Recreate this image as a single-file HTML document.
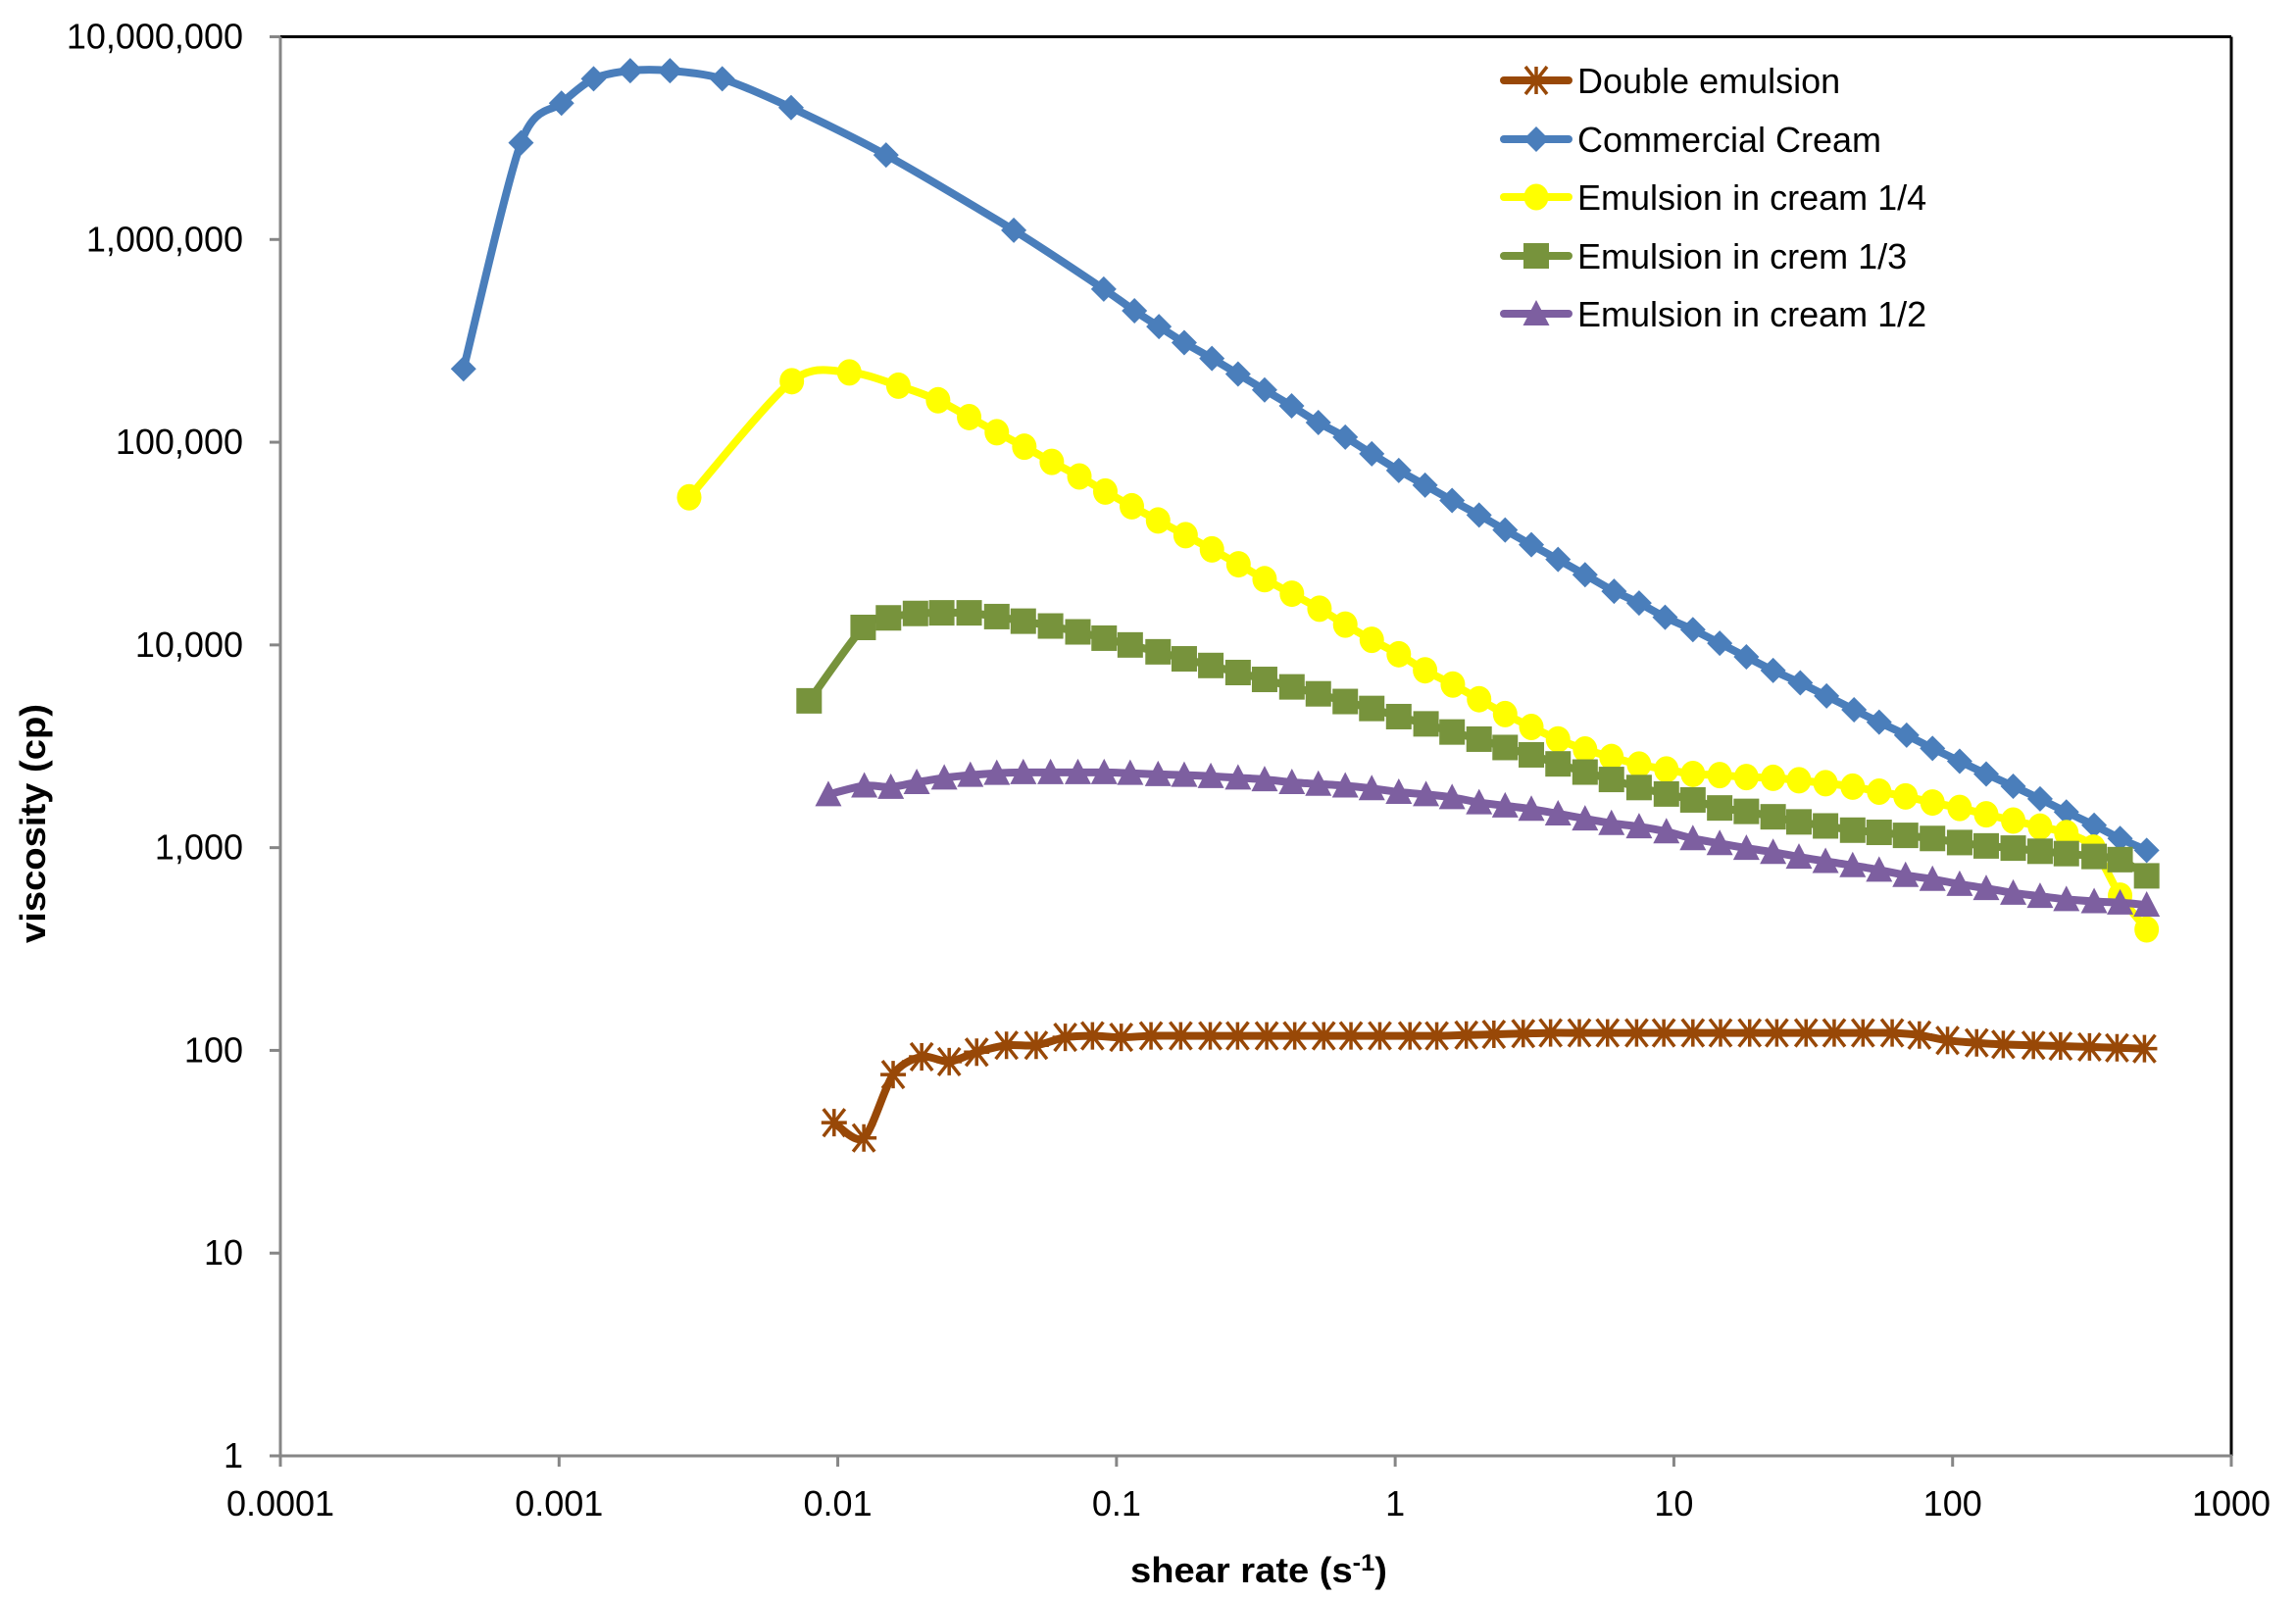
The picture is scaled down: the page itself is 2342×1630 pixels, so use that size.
<!DOCTYPE html>
<html><head><meta charset="utf-8"><title>Viscosity vs shear rate</title>
<style>
html,body{margin:0;padding:0;background:#fff;}
svg{display:block;font-family:"Liberation Sans",Arial,sans-serif;}
</style></head>
<body>
<svg id="chart" width="2342" height="1630" viewBox="0 0 2342 1630" xmlns="http://www.w3.org/2000/svg">
<rect x="0" y="0" width="2342" height="1630" fill="#fff"/>
<g id="axes"></g>
<g id="series"></g>
<g id="legend"></g>
<text x="1284" y="1614" text-anchor="middle" font-size="36" font-weight="bold" textLength="262" lengthAdjust="spacingAndGlyphs">shear rate (s<tspan dy="-12" font-size="24">-1</tspan><tspan dy="12">)</tspan></text>
<text x="0" y="0" transform="translate(46,840) rotate(-90)" text-anchor="middle" font-size="36" font-weight="bold" textLength="244" lengthAdjust="spacingAndGlyphs">viscosity (cp)</text>
</svg>
<script>
// ---- data ----
const xTickLabels = ["0.0001","0.001","0.01","0.1","1","10","100","1000"];
const yTickLabels = ["1","10","100","1,000","10,000","100,000","1,000,000","10,000,000"];
const seriesNames = ["Double emulsion","Commercial Cream","Emulsion in cream 1/4","Emulsion in crem 1/3","Emulsion in cream 1/2"];

const doubleX = [0.0097,0.0124,0.0158,0.020,0.0251,0.0315,0.0403,0.0515,0.0655,0.082,0.104,0.133,0.170,0.217,0.272,0.346,0.436,0.554,0.694,0.881,1.13,1.41,1.80,2.26,2.88,3.61,4.58,5.78,7.35,9.2,11.7,14.7,18.7,23.4,29.8,37.6,47.7,60.7,76,95.9,122,152,195,244,310,389,488];
const doubleY = [44,37,76,93,88,98,106,106,116,118,116,118,118,118,118,118,118,118,118,118,118,118,119,120,121,122,122,122,122,122,122,122,122,122,122,122,122,122,119,112,109,107,106,105,104,103,102];

const creamX = [0.000454,0.00073,0.00102,0.00133,0.0018,0.0025,0.00385,0.0068,0.0149,0.0428,0.090,0.116,0.142,0.175,0.22,0.273,0.34,0.425,0.53,0.662,0.824,1.03,1.28,1.6,2.0,2.48,3.08,3.84,4.8,6.1,7.5,9.3,11.7,14.6,18.2,22.7,28.4,35.3,44.3,54.5,68.4,84.7,106,132,165,206,256,322,399,497];
const creamY = [230000,3000000,4700000,6200000,6800000,6800000,6200000,4470000,2610000,1110000,569000,445000,372000,310000,259000,217000,181000,151000,125000,106000,87700,72600,61400,51600,43700,36900,31200,26400,22200,18400,16100,13700,11900,10200,8730,7480,6500,5600,4790,4160,3590,3090,2670,2310,2010,1740,1500,1290,1110,970];

const quarterX = [0.00293,0.00684,0.011,0.0165,0.0229,0.0296,0.0372,0.0467,0.0586,0.0736,0.0912,0.1135,0.141,0.177,0.22,0.274,0.34,0.426,0.535,0.662,0.824,1.03,1.28,1.61,2.0,2.48,3.08,3.84,4.8,5.97,7.5,9.4,11.7,14.6,18.2,22.7,28.1,35,43.8,54.5,67.8,84.7,106,132,165,206,256,320,399,497];
const quarterY = [53500,200000,221000,190000,161000,133000,112000,95000,80000,67800,57100,48300,41100,34800,29600,25000,21100,17900,15100,12600,10600,9000,7500,6380,5400,4560,3940,3420,3050,2800,2570,2430,2310,2280,2230,2210,2150,2080,2000,1890,1790,1670,1570,1460,1360,1270,1180,1000,580,395];

const thirdX = [0.00789,0.01233,0.0152,0.019,0.0236,0.0296,0.0372,0.0463,0.058,0.0727,0.0903,0.112,0.141,0.175,0.218,0.273,0.34,0.426,0.53,0.662,0.824,1.03,1.29,1.6,2.0,2.48,3.08,3.84,4.8,5.97,7.5,9.4,11.7,14.6,18.2,22.7,28.1,35,43.8,54.5,67.8,84.7,106,132,165,206,256,322,399,497];
const thirdY = [5300,12200,13600,14300,14400,14400,13800,13100,12400,11600,10800,10000,9250,8540,7920,7310,6760,6210,5740,5260,4860,4430,4080,3720,3430,3120,2870,2590,2360,2170,1980,1840,1720,1570,1510,1420,1340,1280,1220,1190,1150,1110,1060,1020,995,960,935,905,873,726];

const halfX = [0.00925,0.01245,0.0155,0.0192,0.0241,0.0299,0.0372,0.0463,0.058,0.0727,0.0903,0.112,0.141,0.175,0.218,0.273,0.34,0.426,0.53,0.662,0.824,1.03,1.29,1.6,2.0,2.48,3.08,3.84,4.8,5.97,7.5,9.4,11.7,14.6,18.2,22.7,28.1,35,43.8,54.5,67.8,84.7,106,132,165,206,256,322,399,497];
const halfY = [1830,2020,1990,2100,2210,2280,2330,2350,2350,2350,2350,2330,2300,2280,2250,2210,2170,2100,2060,2020,1960,1880,1830,1770,1670,1610,1550,1470,1390,1320,1270,1200,1110,1050,995,950,900,857,817,776,731,699,661,630,598,576,556,543,535,522];

// ---- layout ----
const PL=286, PR=2276, PT=37.5, PB=1485;
const XMIN=-4, XMAX=3, YMIN=0, YMAX=7;
function sx(v){return PL+(Math.log10(v)-XMIN)/(XMAX-XMIN)*(PR-PL);}
function sy(v){return PB-(Math.log10(v)-YMIN)/(YMAX-YMIN)*(PB-PT);}
const NS="http://www.w3.org/2000/svg";
function mk(tag,parent,attrs){const e=document.createElementNS(NS,tag);for(const k in attrs)e.setAttribute(k,attrs[k]);parent.appendChild(e);return e;}

const axes=document.getElementById('axes');
let b1=mk('line',axes,{x1:PL,y1:PT,x2:PR,y2:PT,stroke:'#000','stroke-width':3});


let b2=mk('line',axes,{x1:PR,y1:PT,x2:PR,y2:PB,stroke:'#000','stroke-width':3});


let ya=mk('line',axes,{x1:PL,y1:PT,x2:PL,y2:PB+1,stroke:'#868686','stroke-width':3});


let xa=mk('line',axes,{x1:PL-1,y1:PB,x2:PR+1,y2:PB,stroke:'#868686','stroke-width':3});



xTickLabels.forEach((lab,i)=>{
  const x=sx(Math.pow(10,XMIN+i));
  const t=mk('line',axes,{x1:x,y1:PB,x2:x,y2:PB+11,stroke:'#868686','stroke-width':3});
  
  
  const tx=mk('text',axes,{x:x,y:PB+61,'text-anchor':'middle','font-size':36,fill:'#000'});
  tx.textContent=lab;
  
  
});
yTickLabels.forEach((lab,i)=>{
  const y=sy(Math.pow(10,YMIN+i));
  const t=mk('line',axes,{x1:PL-11,y1:y,x2:PL,y2:y,stroke:'#868686','stroke-width':3});
  
  
  const tx=mk('text',axes,{x:248,y:y+12,'text-anchor':'end','font-size':36,fill:'#000'});
  tx.textContent=lab;
  
  
});

function smoothPath(pts){
  if(pts.length<2)return '';
  let d='M'+pts[0][0].toFixed(1)+','+pts[0][1].toFixed(1);
  const t=1/7;
  for(let i=0;i<pts.length-1;i++){
    const p0=pts[Math.max(0,i-1)],p1=pts[i],p2=pts[i+1],p3=pts[Math.min(pts.length-1,i+2)];
    const c1x=p1[0]+(p2[0]-p0[0])*t, c1y=p1[1]+(p2[1]-p0[1])*t;
    const c2x=p2[0]-(p3[0]-p1[0])*t, c2y=p2[1]-(p3[1]-p1[1])*t;
    d+=' C'+c1x.toFixed(1)+','+c1y.toFixed(1)+' '+c2x.toFixed(1)+','+c2y.toFixed(1)+' '+p2[0].toFixed(1)+','+p2[1].toFixed(1);
  }
  return d;
}
function marker(g,type,x,y,color){
  let e;
  if(type==='diamond'){
    e=mk('polygon',g,{points:`${x},${y-13} ${x+13},${y} ${x},${y+13} ${x-13},${y}`,fill:color});
  }else if(type==='circle'){
    e=mk('ellipse',g,{cx:x,cy:y,rx:12.5,ry:13.5,fill:color});
  }else if(type==='square'){
    e=mk('rect',g,{x:x-13,y:y-13,width:26,height:26,fill:color});
  }else if(type==='triangle'){
    e=mk('polygon',g,{points:`${x},${y-14} ${x+13.5},${y+12} ${x-13.5},${y+12}`,fill:color});
  }else{
    e=mk('path',g,{d:`M${x-11},${y-14}L${x+11},${y+14}M${x+11},${y-14}L${x-11},${y+14}M${x},${y-14}L${x},${y+14}M${x-13},${y}L${x+13},${y}`,stroke:color,'stroke-width':3.5,fill:'none'});
  }
  return e;
}

const seriesDefs=[
  {xs:doubleX,ys:doubleY,color:'#984807',m:'star',key:'double-emulsion'},
  {xs:creamX,ys:creamY,color:'#4A7EBB',m:'diamond',key:'commercial-cream'},
  {xs:quarterX,ys:quarterY,color:'#FFFF00',m:'circle',key:'emulsion-1-4'},
  {xs:thirdX,ys:thirdY,color:'#77933C',m:'square',key:'emulsion-1-3'},
  {xs:halfX,ys:halfY,color:'#7D5FA0',m:'triangle',key:'emulsion-1-2'}
];
const sg=document.getElementById('series');
seriesDefs.forEach(s=>{
  const g=mk('g',sg,{});
  
  
  const pts=s.xs.map((v,i)=>[sx(v),sy(s.ys[i])]);
  const p=mk('path',g,{d:smoothPath(pts),fill:'none',stroke:s.color,'stroke-width':8,'stroke-linejoin':'round','stroke-linecap':'round'});
  
  
  pts.forEach(pt=>{
    const e=marker(g,s.m,pt[0],pt[1],s.color);
    
    
  });
});

const lg=document.getElementById('legend');
const legY=[82,142,201,261,320];
seriesDefs.forEach((s,i)=>{
  const g=mk('g',lg,{});
  
  
  const y=legY[i];
  mk('line',g,{x1:1534,y1:y,x2:1600,y2:y,stroke:s.color,'stroke-width':8,'stroke-linecap':'round'});
  marker(g,s.m,1567,y,s.color);
  const t=mk('text',g,{x:1609,y:y+13,'font-size':36,fill:'#000'});
  t.textContent=seriesNames[i];
  
  
});
</script>
</body></html>
